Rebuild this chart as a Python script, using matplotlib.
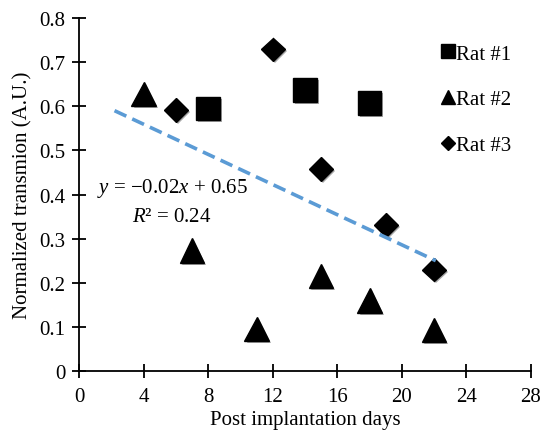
import numpy as np
import matplotlib
matplotlib.use("Agg")
import matplotlib.pyplot as plt
import matplotlib.patheffects as pe
from matplotlib.lines import Line2D

# Data
rat1_x = [8, 14, 18]
rat1_y = [0.595, 0.637, 0.607]
rat2_x = [4, 7, 11, 15, 18, 22]
rat2_y = [0.628, 0.273, 0.095, 0.216, 0.160, 0.093]
rat3_x = [6, 12, 15, 19, 22]
rat3_y = [0.592, 0.729, 0.458, 0.331, 0.230]
trend_x = [2.2, 22.1]
trend_y = [0.59, 0.25]
x_ticks = [0, 4, 8, 12, 16, 20, 24, 28]
y_ticks = [0, 0.1, 0.2, 0.3, 0.4, 0.5, 0.6, 0.7, 0.8]
y_ticklabels = ["0", "0.1", "0.2", "0.3", "0.4", "0.5", "0.6", "0.7", "0.8"]

plt.rcParams['font.family'] = ['Liberation Serif', 'DejaVu Serif']
plt.rcParams['mathtext.fontset'] = 'custom'
plt.rcParams['mathtext.rm'] = 'Liberation Serif'
plt.rcParams['mathtext.it'] = 'Liberation Serif:italic'

FS = 15

fig = plt.figure(figsize=(5.42, 4.31), dpi=100)
ax = fig.add_axes([0.1458, 0.1369, 0.8339, 0.819])

shadow = [pe.SimplePatchShadow(offset=(1.5, -1.5), shadow_rgbFace='k', alpha=0.35), pe.Normal()]

ax.plot(rat1_x, rat1_y, ls='none', marker='s', ms=17, color='black', path_effects=shadow, zorder=3)
ax.plot(rat2_x, rat2_y, ls='none', marker='^', ms=17.5, color='black', path_effects=shadow, zorder=3)
ax.plot(rat3_x, rat3_y, ls='none', marker='D', ms=12, color='black', path_effects=shadow, zorder=3)

ax.plot(trend_x, trend_y, color='#5B9BD5', lw=2.6, ls=(0, (3.6, 1.8)), zorder=4)

ax.text(1.1, 0.415, r"$y$ = −0.02$x$ + 0.65", fontsize=FS, va='center', ha='left')
ax.text(3.3, 0.35, r"$R$² = 0.24", fontsize=FS, va='center', ha='left')

ax.set_xlim(0, 28)
ax.set_ylim(0, 0.8)
ax.set_xticks(x_ticks)
ax.set_yticks(y_ticks)
ax.set_yticklabels(y_ticklabels)
for s in ['top', 'right']:
    ax.spines[s].set_visible(False)
for s in ['left', 'bottom']:
    ax.spines[s].set_linewidth(1.3)
ax.tick_params(direction='inout', length=9.4, width=1.3, labelsize=FS)
ax.tick_params(axis='x', pad=7)
ax.tick_params(axis='y', pad=5)

ax.set_xlabel("Post implantation days", fontsize=FS, labelpad=3)
ax.set_ylabel("Normalized transmion (A.U.)", fontsize=FS, labelpad=5)

handles = [
    Line2D([], [], ls='none', marker='s', ms=9.4, color='black'),
    Line2D([], [], ls='none', marker='^', ms=9.8, color='black'),
    Line2D([], [], ls='none', marker='D', ms=6.8, color='black'),
]
ax.legend(handles, ["Rat #1", "Rat #2", "Rat #3"], frameon=False, fontsize=FS,
          loc='upper left', bbox_to_anchor=(0.785, 0.95), handlelength=0.6,
          handletextpad=0.05, labelspacing=1.25, borderaxespad=0)

fig.savefig("out.png", dpi=100)
